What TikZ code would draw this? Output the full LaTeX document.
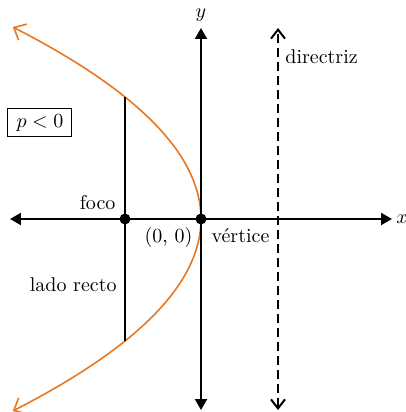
\documentclass[tikz,border=0pt]{standalone}
\usepackage{xcolor}
\usepackage{tikz}
\usetikzlibrary{arrows.meta, positioning}
\usepackage{amsmath}
\definecolor{parorange}{RGB}{232,119,34}

\begin{document}
\begin{tikzpicture}[
    x=0.5pt, y=0.5pt,
    axis/.style={line width=1.1pt, draw=black, {Triangle[length=5.5pt,width=6pt]}-{Triangle[length=5.5pt,width=6pt]}},
    dirline/.style={line width=1pt, draw=black, dash pattern=on 4.5pt off 2.5pt, {Straight Barb[length=4.5pt,width=7pt]}-{Straight Barb[length=4.5pt,width=7pt]}},
    curve/.style={line width=0.8pt, draw=parorange, {Straight Barb[length=5pt,width=9pt]}-{Straight Barb[length=5pt,width=9pt]}},
    segment/.style={line width=0.8pt, draw=black},
    dot/.style={circle, fill=black, minimum size=5.5pt, inner sep=0pt},
    lbl/.style={inner sep=1pt},
    tag/.style={rectangle, draw=black, line width=0.5pt, minimum width=32pt, minimum height=14pt, inner sep=1pt}
]
    \useasboundingbox (-201,-193) rectangle (205,219);

    \coordinate (xleft) at (-191,0);
    \coordinate (xright) at (191,0);
    \coordinate (ybot) at (0,-191);
    \coordinate (ytop) at (0,191);
    \coordinate (dbot) at (77,-191);
    \coordinate (dtop) at (77,191);
    \coordinate (lrtop) at (-76,122);
    \coordinate (lrbot) at (-76,-122);

    \draw [curve] plot [smooth, domain=-192:192, samples=49, variable=\t] ({-76*(\t/122)^2}, \t);
    \draw [segment] (lrtop) -- (lrbot);
    \draw [axis] (xleft) -- (xright);
    \draw [axis] (ybot) -- (ytop);
    \draw [dirline] (dbot) -- (dtop);

    \node (vertex) [dot] at (0,0) {};
    \node (focus) [dot] at (-76,0) {};

    \node (xlabel) [lbl, right=1pt of xright] {$x$};
    \node (ylabel) [lbl, above=2pt of ytop] {$y$};
    \node (dirlabel) [lbl, right=2.5pt] at (77,162) {directriz};
    \node (ptag) [tag] at (-161,96) {$p<0$};
    \node (focolabel) [lbl, above left=1.5pt and 1.5pt of focus] {foco};
    \node (origin) [lbl, below left=1pt and 1pt of vertex] {(0, 0)};
    \node (vertlabel) [lbl, below right=1.5pt and 2pt of vertex] {vértice};
    \node (ladolabel) [lbl, left=3pt] at (-76,-66) {lado recto};
\end{tikzpicture}
\end{document}
